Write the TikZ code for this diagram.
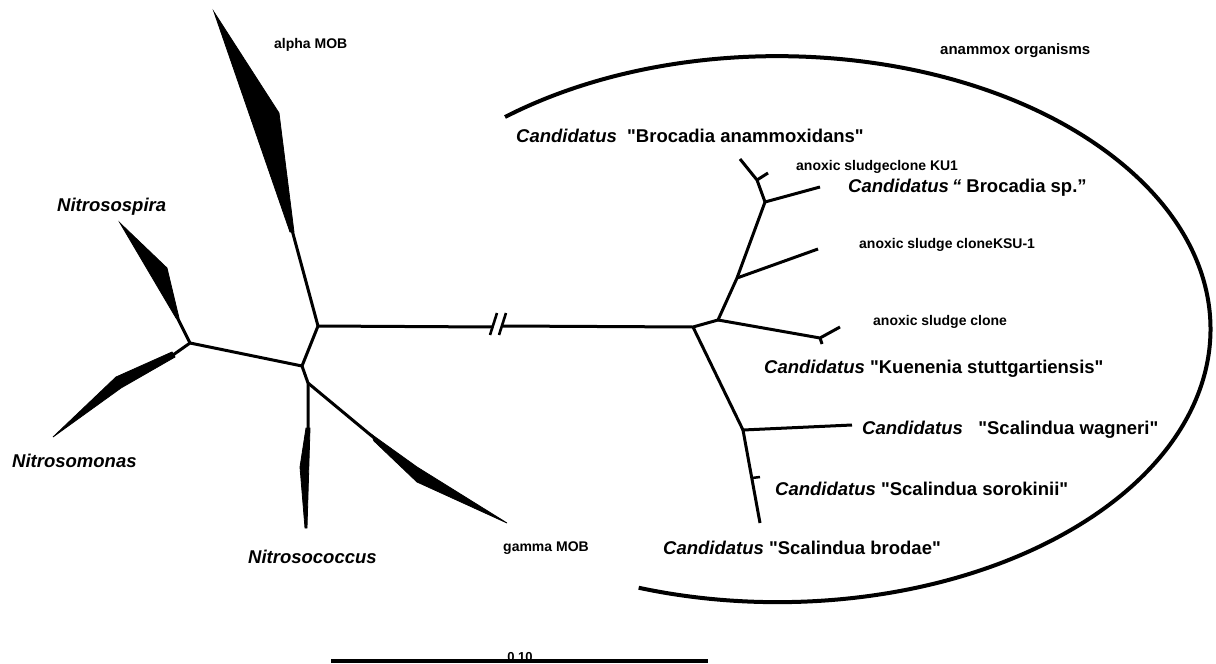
\documentclass[tikz,border=0pt]{standalone}
\usepackage{fontspec}
\setmainfont{Liberation Sans}[Ligatures=TeXOff]
\begin{document}
\begin{tikzpicture}[x=1pt,y=-1pt,
  branch/.style={line width=3pt},
  wedgefill/.style={fill=black,draw=black,line width=0.8pt,line join=miter},
  biglab/.style={font=\fontsize{18.5}{22}\selectfont\bfseries,inner sep=0pt,anchor=base west},
  smalllab/.style={font=\fontsize{14}{16}\selectfont\bfseries,inner sep=0pt,anchor=base west}]
\useasboundingbox (0,0) rectangle (1216,664);

% --- tree nodes
\coordinate (A) at (318,326);
\coordinate (B) at (302,366);
\coordinate (C) at (190,343);
\coordinate (D) at (308,383);
\coordinate (alphaEnd) at (292,230);
\coordinate (spiraEnd) at (177,317);
\coordinate (monasEnd) at (173,355);
\coordinate (coccusEnd) at (308,429);
\coordinate (gammaEnd) at (373,437);
\coordinate (brkL) at (493,327);
\coordinate (brkR) at (503,326);
\coordinate (E) at (693,327);
\coordinate (F) at (718,320);
\coordinate (G) at (737,278);
\coordinate (H) at (765,202);
\coordinate (I) at (757,180);
\coordinate (J) at (743,430);
\coordinate (cloneT) at (820,338);
\coordinate (cloneA) at (840,327);
\coordinate (cloneB) at (822,344);
\coordinate (ksuT) at (818,249);
\coordinate (spT) at (820,187);
\coordinate (kuT) at (740,159);
\coordinate (kuB) at (768,173);
\coordinate (wagT) at (852,425);
\coordinate (broT) at (760,523);
\coordinate (soroA) at (752,478);
\coordinate (soroB) at (760,477);

% --- wedges
\fill[wedgefill] (214,12) -- (279,113) -- (294,232) -- (290,232) -- cycle;
\fill[wedgefill] (120,223) -- (167,268) -- (179,318) -- (176,318) -- cycle;
\fill[wedgefill] (53,437) -- (116,377) -- (172,352) -- (175,357) -- (121,388) -- cycle;
\fill[wedgefill] (306,428) -- (310,428) -- (307,528) -- (305,528) -- (300,467) -- cycle;
\fill[wedgefill] (371,434) -- (417,467) -- (507,523) -- (417,482) -- (374,441) -- cycle;

% --- ammonia oxidiser branches
\draw[branch] (alphaEnd) -- (A);
\draw[branch] (spiraEnd) -- (C);
\draw[branch] (monasEnd) -- (C);
\draw[branch] (C) -- (B) -- (A);
\draw[branch] (B) -- (D) -- (coccusEnd);
\draw[branch] (D) -- (gammaEnd);

% --- long branch with break
\draw[branch] (A) -- (brkL);
\draw[branch] (brkR) -- (E);
\draw[line width=2.6pt] (490,335) -- (497,313);
\draw[line width=2.6pt] (499,335) -- (506,313);

% --- anammox branches
\draw[branch] (E) -- (F) -- (G) -- (H) -- (I) -- (kuT);
\draw[branch] (I) -- (kuB);
\draw[branch] (H) -- (spT);
\draw[branch] (G) -- (ksuT);
\draw[branch] (F) -- (cloneT) -- (cloneA);
\draw[branch] (cloneT) -- (cloneB);
\draw[branch] (E) -- (J) -- (wagT);
\draw[branch] (J) -- (broT);
\draw[line width=2.5pt] (soroA) -- (soroB);

% --- enclosing arc
\draw[line width=4pt] (505,117) arc[start angle=-129, end angle=108.7, x radius=433, y radius=273];

% --- scale bar
\coordinate (sbL) at (331,661);
\coordinate (sbR) at (708,661);
\draw[line width=3.5pt] (sbL) -- (sbR);
\node[font=\fontsize{13}{15}\selectfont\bfseries,inner sep=0pt,anchor=base] (sb) at (520,661) {0.10};

% --- labels
\node[smalllab] (alpha) at (274,48) {alpha MOB};
\node[biglab] (spira) at (57,211) {\textit{Nitrosospira}};
\node[biglab] (monas) at (12,467) {\textit{Nitrosomonas}};
\node[biglab] (coccus) at (248,563) {\textit{Nitrosococcus}};
\node[smalllab] (gamma) at (503,551) {gamma MOB};
\node[font=\fontsize{15}{18}\selectfont\bfseries,inner sep=0pt,anchor=base west] (anam) at (940,54) {anammox organisms};
\node[biglab] (broan) at (516,142) {\textit{Candidatus}\ \ "Brocadia anammoxidans"};
\node[smalllab] (ku1) at (796,170) {anoxic sludgeclone KU1};
\node[biglab] (brsp) at (848,192) {\textit{Candidatus\,“} Brocadia sp.”};
\node[smalllab] (ksu) at (859,248) {anoxic sludge cloneKSU-1};
\node[smalllab] (clone) at (873,325) {anoxic sludge clone};
\node[biglab] (kuen) at (764,373) {\textit{Candidatus}\ "Kuenenia stuttgartiensis"};
\node[biglab] (wag) at (862,434) {\textit{Candidatus}\ \ \ "Scalindua wagneri"};
\node[biglab] (soro) at (775,495) {\textit{Candidatus}\ "Scalindua sorokinii"};
\node[biglab] (brod) at (663,554) {\textit{Candidatus}\ "Scalindua brodae"};
\end{tikzpicture}
\end{document}
